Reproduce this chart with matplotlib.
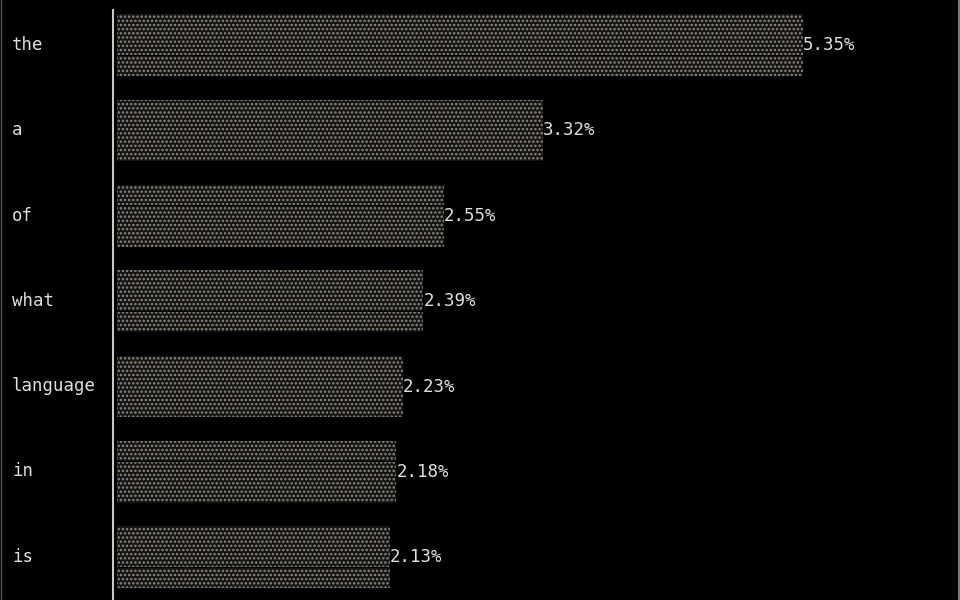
import matplotlib
matplotlib.use("Agg")
import matplotlib.pyplot as plt
from matplotlib.lines import Line2D

words = ["the", "a", "of", "what", "language", "in", "is"]
shares = [5.35, 3.32, 2.55, 2.39, 2.23, 2.18, 2.13]

plt.rcParams["hatch.linewidth"] = 1.2

fig = plt.figure(figsize=(9.6, 6), dpi=100, facecolor="black")
ax = fig.add_axes([113 / 960, 0, (958 - 113) / 960, 590 / 600])
ax.set_facecolor("black")

# each bar is drawn as three thin stripes, like terminal rows
for offset in (-0.242, 0, 0.242):
    ax.barh([i + offset for i in range(len(words))], shares, height=0.238,
            color="#141414", edgecolor="#8f887c", linewidth=0, hatch="....")

for i, (w, v) in enumerate(zip(words, shares)):
    ax.text(v, i, "%.2f%%" % v, va="center", ha="left", color="#e0e0e0",
            family="DejaVu Sans Mono", fontsize=12.5)
    fig.text(12 / 960, 1 - (45 + i * 85.3) / 600, w, va="center", ha="left",
             color="#e0e0e0", family="DejaVu Sans Mono", fontsize=12.5)

ax.set_xlim(-0.031, 6.56)
ax.set_ylim(6.5, -0.41)
for s in ["top", "right", "bottom"]:
    ax.spines[s].set_visible(False)
ax.spines["left"].set_color("#c8c8c8")
ax.spines["left"].set_linewidth(1.5)
ax.set_xticks([])
ax.set_yticks([])

fig.add_artist(Line2D([0.5 / 960, 0.5 / 960], [0, 1], color="#555555", lw=1))
fig.add_artist(Line2D([958.5 / 960, 958.5 / 960], [0, 1], color="#777777", lw=1.5))

fig.savefig("out.png", dpi=100, facecolor="black")
